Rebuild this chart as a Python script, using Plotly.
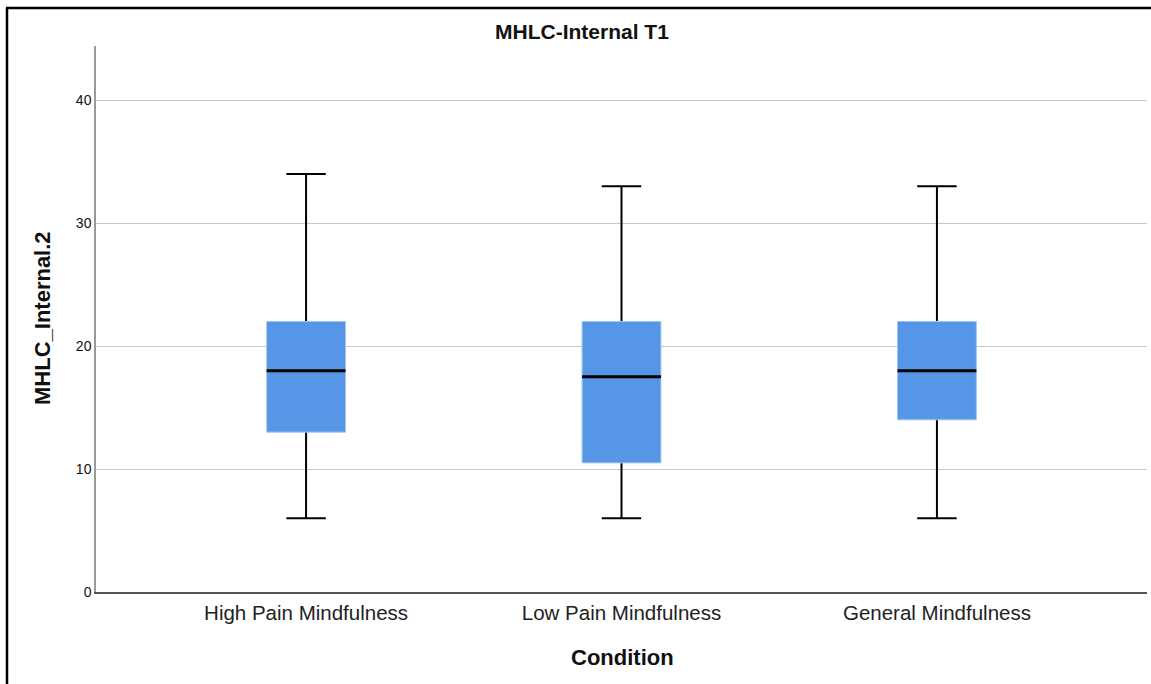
import plotly.graph_objects as go

categories = ["High Pain Mindfulness", "Low Pain Mindfulness", "General Mindfulness"]
lower_whisker = [6, 6, 6]
q1_values = [13, 10.5, 14]
median_values = [18, 17.5, 18]
q3_values = [22, 22, 22]
upper_whisker = [34, 33, 33]
y_ticks = [0, 10, 20, 30, 40]

FONT = "Arial, Liberation Sans, sans-serif"
BLUE = "#5596E6"

fig = go.Figure()
# whiskers + caps (black); box collapsed to the median so no dark outline
fig.add_trace(go.Box(
    x=categories, q1=median_values, median=median_values, q3=median_values,
    lowerfence=lower_whisker, upperfence=upper_whisker,
    fillcolor="black", line=dict(color="black", width=2),
    width=0.25, whiskerwidth=0.5, boxpoints=False, hoverinfo="skip",
    showlegend=False))
# box body with light outline, no whiskers
fig.add_trace(go.Box(
    x=categories, q1=q1_values, median=median_values, q3=q3_values,
    lowerfence=q1_values, upperfence=q3_values,
    fillcolor=BLUE, line=dict(color="#A3C6F0", width=1),
    width=0.25, whiskerwidth=0, boxpoints=False, showlegend=False))
# median line (degenerate box)
fig.add_trace(go.Box(
    x=categories, q1=median_values, median=median_values, q3=median_values,
    lowerfence=median_values, upperfence=median_values,
    fillcolor="black", line=dict(color="black", width=3),
    width=0.25, whiskerwidth=0, boxpoints=False, hoverinfo="skip",
    showlegend=False))

L, R, T, B = 96, 4, 46, 92
W, H = 1151, 684
pw, ph = W - L - R, H - T - B

def px_x(px):
    return (px - L) / pw

def px_y(py):
    return (H - B - py) / ph

fig.update_layout(
    width=W, height=H,
    margin=dict(l=L, r=R, t=T, b=B),
    paper_bgcolor="white", plot_bgcolor="white",
    boxmode="overlay",
    font=dict(family=FONT, color="#222"),
    xaxis=dict(range=[-0.666, 2.666], showgrid=False, showline=True,
               linecolor="#555", linewidth=1.5, ticks="", ticklabelstandoff=2,
               tickfont=dict(size=20.5, family=FONT, color="#222"), fixedrange=True),
    yaxis=dict(range=[0, 44.4], tickvals=y_ticks, showgrid=True,
               gridcolor="#C8C8C8", gridwidth=1.2, showline=True,
               linecolor="#999", linewidth=1.5, ticks="", zeroline=False,
               tickfont=dict(size=14, family=FONT, color="#111"), fixedrange=True),
    annotations=[
        dict(text="<b>MHLC-Internal T1</b>", xref="paper", yref="paper",
             x=px_x(582), y=px_y(31), showarrow=False,
             font=dict(size=21, family=FONT, color="#111"),
             xanchor="center", yanchor="middle"),
        dict(text="<b>MHLC_Internal.2</b>", xref="paper", yref="paper",
             x=px_x(42), y=px_y(318), showarrow=False, textangle=-90,
             font=dict(size=22, family=FONT, color="#111"),
             xanchor="center", yanchor="middle"),
        dict(text="<b>Condition</b>", xref="paper", yref="paper",
             x=px_x(622), y=px_y(657), showarrow=False,
             font=dict(size=22, family=FONT, color="#111"),
             xanchor="center", yanchor="middle"),
    ],
    shapes=[
        dict(type="line", xref="paper", yref="paper",
             x0=px_x(7), x1=px_x(7), y0=px_y(8), y1=px_y(700),
             line=dict(color="black", width=2.5)),
        dict(type="line", xref="paper", yref="paper",
             x0=px_x(6), x1=px_x(1160), y0=px_y(8), y1=px_y(8),
             line=dict(color="black", width=2.5)),
    ],
)

fig.write_html("out.html")
